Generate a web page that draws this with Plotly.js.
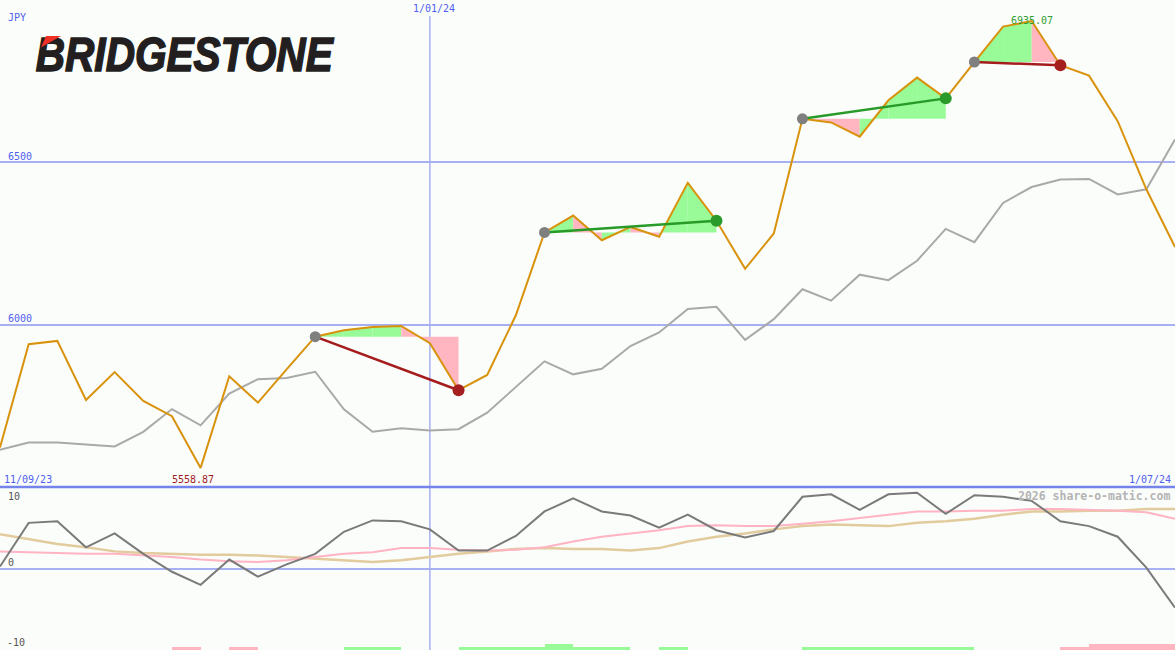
<!DOCTYPE html>
<html><head><meta charset="utf-8">
<script src="https://cdn.plot.ly/plotly-3.0.1.min.js"></script>
<style>html,body{margin:0;padding:0;background:#fbfdfb;}#chart{width:1175px;height:650px;}</style>
</head><body><div id="chart"></div>
<script>
// ---- data (weekly, index 0 = first week shown) ----
const price = [5622,5940,5950,5768,5854,5765,5718,5558.87,5841,5760,5862,5963,5983,5993,5996,5943,5798,5845,6029,6284,6336,6260,6301,6271,6437,6320,6172,6281,6634,6623,6579,6691,6761,6697,6809,6918,6935.07,6799,6767,6627,6417,6239];
const relative = [5615,5637,5637,5631,5625,5670,5740,5690,5788,5832,5836,5855,5739,5670,5681,5674,5678,5729,5807,5887,5847,5864,5934,5976,6048,6055,5953,6017,6109,6074,6154,6137,6197,6295,6254,6375,6424,6447,6449,6401,6417,6570];
const momentum = [0.25,5.6,5.8,2.6,4.3,1.8,-0.4,-2.0,1.1,-1.0,0.5,1.8,4.5,5.9,5.8,4.8,2.2,2.2,4.0,7.0,8.6,7.0,6.5,5.0,6.6,4.7,3.8,4.6,8.8,9.1,7.2,9.1,9.3,6.7,9.0,8.8,8.3,5.8,5.2,3.9,0.1,-4.8];
const signalPink = [2.1,2.0,1.9,1.8,1.8,1.6,1.4,1.1,0.9,0.8,1.0,1.4,1.8,2.0,2.5,2.5,2.3,2.2,2.3,2.6,3.3,3.9,4.3,4.7,5.2,5.3,5.2,5.2,5.5,5.8,6.2,6.6,7.0,7.0,7.1,7.1,7.3,7.3,7.2,7.1,6.9,6.1];
const signalTan = [4.2,3.6,3.0,2.6,2.1,1.9,1.8,1.7,1.7,1.6,1.4,1.2,1.0,0.8,1.0,1.4,1.8,2.1,2.4,2.5,2.4,2.4,2.2,2.5,3.3,3.9,4.3,4.8,5.2,5.4,5.3,5.2,5.6,5.8,6.1,6.6,7.0,7.0,7.1,7.1,7.3,7.3];
const patternStart = [11,19,28,34];
const patternEnd = [16,25,33,37];
const greenSeg = [12,13,16,17,18,19,20,21,23,28,29,30,31,32,33];
const greenLvl = [1,1,1,1,1,2,1,1,1,1,1,1,1,1,1];
const pinkSeg = [6,8,37,38,39,40];
const pinkLvl = [1,1,1,2,2,2];
const priceTicks = [6000,6500];
const oscTickLabels = ['10','0','-10'];
const dateLabels = ['11/09/23','1/01/24','1/07/24'];
const dateIdx = [0,15,41];
const currency = 'JPY';
const lowIdx = 7, highIdx = 36;

// ---- helpers ----
const W = 1175, H = 650, SPLIT = 487;
const px = p => p / W, py = p => 1 - p / H;
const idx = price.map((_, i) => i);
const GREEN_FILL = '#98fb98', PINK_FILL = '#ffb6c1';
const BLUE_TXT = '#4f5ff0', GRID = '#a6b0f2';
const MONO = 'DejaVu Sans Mono';

const traces = [];
patternStart.forEach((s, k) => {
  const e = patternEnd[k], level = price[s];
  for (let i = s; i < e; i++) {
    traces.push({x:[i,i,i+1,i+1,i], y:[level,price[i],price[i+1],level,level],
      type:'scatter', mode:'lines', fill:'toself', line:{width:0},
      fillcolor: price[i+1] >= level ? GREEN_FILL : PINK_FILL, hoverinfo:'skip', showlegend:false});
  }
});
traces.push({x:idx, y:relative, type:'scatter', mode:'lines', line:{color:'#a9a9a9', width:2}, showlegend:false});
traces.push({x:idx, y:price, type:'scatter', mode:'lines', line:{color:'#d8920c', width:2}, showlegend:false});
patternStart.forEach((s, k) => {
  const e = patternEnd[k];
  const up = price[e] >= price[s];
  traces.push({x:[s,e], y:[price[s],price[e]], type:'scatter', mode:'lines',
    line:{color: up ? '#279a27' : '#a41c1c', width:2.5}, showlegend:false});
  traces.push({x:[s], y:[price[s]], type:'scatter', mode:'markers', marker:{color:'#7f7f7f', size:11}, showlegend:false});
  traces.push({x:[e], y:[price[e]], type:'scatter', mode:'markers', marker:{color: up ? '#2a9a2a' : '#a51f1f', size:12}, showlegend:false});
});
traces.push({x:idx, y:signalTan, xaxis:'x', yaxis:'y2', type:'scatter', mode:'lines', line:{color:'#e2cb9c', width:2.5}, showlegend:false});
traces.push({x:idx, y:signalPink, xaxis:'x', yaxis:'y2', type:'scatter', mode:'lines', line:{color:'#ffb3c3', width:2}, showlegend:false});
traces.push({x:idx, y:momentum, xaxis:'x', yaxis:'y2', type:'scatter', mode:'lines', line:{color:'#7a7a7a', width:2}, showlegend:false});
const barH = l => l === 2 ? 0.75 : 0.4;
traces.push({x:greenSeg.map(i=>i+0.5), y:greenLvl.map(barH), base:greenSeg.map(()=>-10), width:greenSeg.map(()=>1),
  type:'bar', xaxis:'x', yaxis:'y2', marker:{color:GREEN_FILL, line:{width:0}}, showlegend:false});
traces.push({x:pinkSeg.map(i=>i+0.5), y:pinkLvl.map(barH), base:pinkSeg.map(()=>-10), width:pinkSeg.map(()=>1),
  type:'bar', xaxis:'x', yaxis:'y2', marker:{color:PINK_FILL, line:{width:0}}, showlegend:false});

const small = (c) => ({family:MONO, size:10, color:c});
const annotations = [
  {xref:'paper', yref:'paper', x:px(6), y:py(18), xanchor:'left', yanchor:'middle', text:currency, showarrow:false, font:small(BLUE_TXT)},
  ...priceTicks.map(v => ({xref:'paper', yref:'y', x:px(6), y:v, yshift:6, xanchor:'left', yanchor:'middle', text:String(v), showarrow:false, font:small(BLUE_TXT)})),
  {xref:'x', yref:'paper', x:dateIdx[1], xshift:4, y:py(9), xanchor:'center', yanchor:'middle', text:dateLabels[1], showarrow:false, font:small(BLUE_TXT)},
  {xref:'paper', yref:'paper', x:px(2), y:py(479), xanchor:'left', yanchor:'middle', text:dateLabels[0], showarrow:false, font:small(BLUE_TXT)},
  {xref:'paper', yref:'paper', x:px(1173), y:py(479), xanchor:'right', yanchor:'middle', text:dateLabels[2], showarrow:false, font:small(BLUE_TXT)},
  {xref:'x', yref:'paper', x:lowIdx, xshift:-8, y:py(479), xanchor:'center', yanchor:'middle', text:price[lowIdx].toFixed(2), showarrow:false, font:small('#a01c1c')},
  {xref:'x', yref:'paper', x:highIdx, y:py(21), xanchor:'center', yanchor:'middle', text:price[highIdx].toFixed(2), showarrow:false, font:small('#2f9e2f')},
  {xref:'paper', yref:'paper', x:px(6), y:py(496), xanchor:'left', yanchor:'middle', text:oscTickLabels[0], showarrow:false, font:small('#555')},
  {xref:'paper', yref:'paper', x:px(6), y:py(562), xanchor:'left', yanchor:'middle', text:oscTickLabels[1], showarrow:false, font:small('#555')},
  {xref:'paper', yref:'paper', x:px(5), y:py(642), xanchor:'left', yanchor:'middle', text:oscTickLabels[2], showarrow:false, font:small('#555')},
  {xref:'paper', yref:'paper', x:px(1172), y:py(496), xanchor:'right', yanchor:'middle', text:'2026 share-o-matic.com', showarrow:false,
    font:{family:MONO, size:11.5, color:'#b4b4b4', weight:'bold'}},
  {xref:'paper', yref:'paper', x:px(184.5), y:py(54), xanchor:'center', yanchor:'middle', text:'BRIDGESTONE', showarrow:false,
    font:{family:'Liberation Sans', size:49, color:'#231f20', weight:'bold', style:'italic'}}
];

const shapes = [
  {type:'line', xref:'x', yref:'paper', x0:dateIdx[1], x1:dateIdx[1], y0:0, y1:py(16), line:{color:GRID, width:1.5}, layer:'below'},
  {type:'line', xref:'paper', yref:'paper', x0:0, x1:1, y0:py(SPLIT), y1:py(SPLIT), line:{color:'#7484ea', width:2.5}},
  {type:'path', xref:'paper', yref:'paper', path:`M ${px(46)} ${py(36)} L ${px(61)} ${py(36)} L ${px(41)} ${py(47.5)} Z`, fillcolor:'#ee3124', line:{width:0}}
];

const layout = {
  width:W, height:H, margin:{l:0,r:0,t:0,b:0}, paper_bgcolor:'#fbfdfb', plot_bgcolor:'#fbfdfb',
  showlegend:false, barmode:'overlay', bargap:0,
  xaxis:{range:[0,41], showgrid:false, zeroline:false, showticklabels:false, ticks:'', anchor:'y2'},
  yaxis:{domain:[py(SPLIT),1], range:[5500,7000], tickvals:priceTicks, showgrid:true, gridcolor:GRID, gridwidth:2, zeroline:false, showticklabels:false, ticks:''},
  yaxis2:{domain:[0,py(SPLIT)], range:[-10,10], tickvals:[0], showgrid:true, gridcolor:GRID, gridwidth:2, zeroline:false, showticklabels:false, ticks:'', anchor:'x'},
  annotations, shapes, hovermode:false
};

Plotly.newPlot('chart', traces, layout, {staticPlot:true, displayModeBar:false}).then(() => {
  let logoSvg = null;
  document.querySelectorAll('.annotation-text').forEach(t => {
    if (t.textContent === 'BRIDGESTONE') {
      t.setAttribute('textLength', '297');
      t.setAttribute('lengthAdjust', 'spacingAndGlyphs');
      t.style.stroke = '#231f20';
      t.style.strokeWidth = '1.6px';
      t.style.strokeLinejoin = 'miter';
      logoSvg = t.ownerSVGElement;
    }
  });
  // bring the red logo triangle above the annotation text
  document.querySelectorAll('#chart path').forEach(p => {
    const f = (p.style.fill || p.getAttribute('fill') || '').replace(/\s/g, '').toLowerCase();
    if (f === 'rgb(238,49,36)' || f === '#ee3124') {
      const g = p.closest('g.shape-group') || p;
      if (logoSvg) logoSvg.appendChild(g);
    }
  });
});
</script></body></html>
